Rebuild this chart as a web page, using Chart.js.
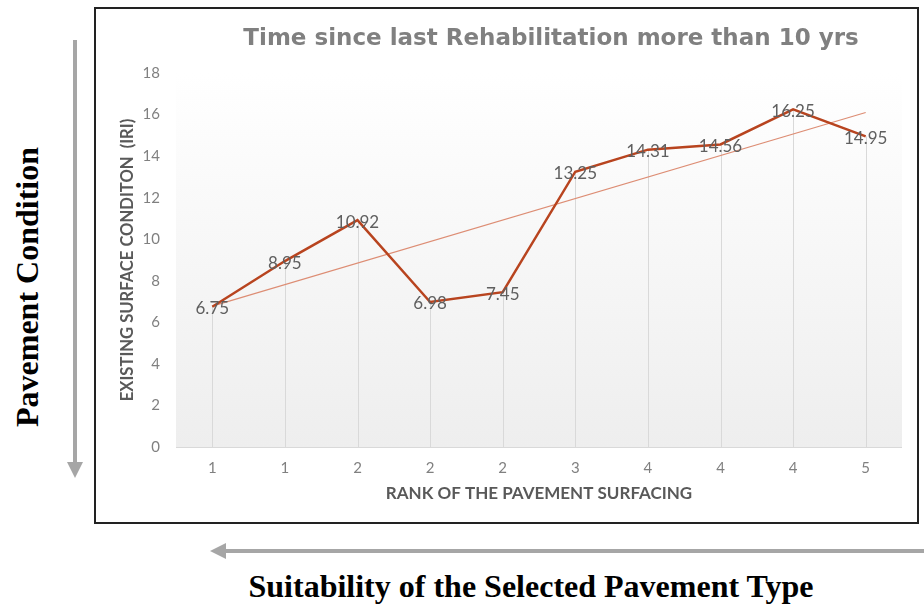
<!DOCTYPE html>
<html>
<head>
<meta charset="utf-8">
<script src="https://cdn.jsdelivr.net/npm/chart.js@4/dist/chart.umd.min.js"></script>
<style>
  html, body { margin: 0; padding: 0; background: #ffffff; }
  body { width: 924px; height: 606px; position: relative; overflow: hidden; }
  #frame {
    position: absolute; left: 94px; top: 7px; width: 825px; height: 517px;
    border: 2px solid #222222; box-sizing: border-box;
  }
  #chart { position: absolute; left: 96px; top: 9px; }
  #title {
    position: absolute; left: 551px; top: 21px; transform: translateX(-50%);
    white-space: nowrap; font-family: "DejaVu Sans", sans-serif; font-weight: 700;
    font-size: 23px; color: #808080; line-height: 32px;
  }
  #ylabel {
    position: absolute; left: 27px; top: 287px;
    transform: translate(-50%, -50%) rotate(-90deg);
    white-space: nowrap; font-family: "Liberation Serif", "Times New Roman", serif;
    font-weight: 700; font-size: 32px; color: #000000; line-height: 36px;
  }
  #xlabel {
    position: absolute; left: 531px; top: 586px;
    transform: translate(-50%, -50%);
    white-space: nowrap; font-family: "Liberation Serif", "Times New Roman", serif;
    font-weight: 700; font-size: 32px; color: #000000; line-height: 36px;
  }
  svg.arrows { position: absolute; left: 0; top: 0; }
</style>
</head>
<body>
<svg class="arrows" width="924" height="606">
  <!-- condition arrow, pointing down -->
  <rect x="73" y="40" width="4" height="424" fill="#a6a6a6"/>
  <polygon points="67,462 83,462 75,478" fill="#a6a6a6"/>
  <!-- suitability arrow, pointing left -->
  <rect x="224" y="549" width="700" height="4" fill="#a6a6a6"/>
  <polygon points="226,543 226,559 210,551" fill="#a6a6a6"/>
</svg>
<div id="ylabel">Pavement Condition</div>
<div id="xlabel">Suitability of the Selected Pavement Type</div>
<div id="frame"></div>
<canvas id="chart" width="822" height="513"></canvas>
<div id="title">Time since last Rehabilitation more than 10 yrs</div>

<script>
// Rank of each pavement surfacing (category labels along the x axis)
const rankLabels = ['1', '1', '2', '2', '2', '3', '4', '4', '4', '5'];
// Existing surface condition, IRI
const iriValues = [6.75, 8.95, 10.92, 6.98, 7.45, 13.25, 14.31, 14.56, 16.25, 14.95];
// Linear trend line: value at the first and at the last rank
const trendEnds = [6.78, 16.1];
// Y axis range and tick step
const yTicks = { min: 0, max: 18, step: 2 };

const trendData = rankLabels.map((_, i) =>
  i === 0 ? trendEnds[0] : (i === rankLabels.length - 1 ? trendEnds[1] : null));

const chartFont = 'Lato, "DejaVu Sans", sans-serif';

// Plot background, drop lines and value labels
const decorations = {
  id: 'decorations',
  beforeDatasetsDraw(chart) {
    const { ctx, chartArea: a, scales } = chart;
    ctx.save();
    const g = ctx.createLinearGradient(0, a.top, 0, a.bottom);
    g.addColorStop(0, 'rgba(255,255,255,1)');
    g.addColorStop(1, 'rgba(238,238,238,1)');
    ctx.fillStyle = g;
    ctx.fillRect(a.left, a.top, a.right - a.left, a.bottom - a.top);

    const y0 = scales.y.getPixelForValue(0);
    ctx.strokeStyle = '#d9d9d9';
    ctx.lineWidth = 1;
    chart.getDatasetMeta(0).data.forEach(pt => {
      const x = Math.round(pt.x) + 0.5;
      ctx.beginPath();
      ctx.moveTo(x, pt.y);
      ctx.lineTo(x, y0);
      ctx.stroke();
    });
    ctx.beginPath();
    ctx.moveTo(a.left, Math.round(y0) + 0.5);
    ctx.lineTo(a.right, Math.round(y0) + 0.5);
    ctx.stroke();
    ctx.restore();
  },
  afterDatasetsDraw(chart) {
    const { ctx } = chart;
    ctx.save();
    ctx.font = '17px ' + chartFont;
    ctx.fillStyle = '#5f5f5f';
    ctx.textAlign = 'center';
    ctx.textBaseline = 'middle';
    chart.getDatasetMeta(0).data.forEach((pt, i) => {
      ctx.fillText(iriValues[i].toFixed(2), pt.x, pt.y + 2);
    });
    ctx.restore();
  }
};

new Chart(document.getElementById('chart'), {
  type: 'line',
  data: {
    labels: rankLabels,
    datasets: [
      {
        data: iriValues,
        borderColor: '#b8441f',
        borderWidth: 2.5,
        pointRadius: 0,
        tension: 0,
        order: 1
      },
      {
        data: trendData,
        borderColor: '#dd8d74',
        borderWidth: 1.2,
        pointRadius: 0,
        spanGaps: true,
        order: 2
      }
    ]
  },
  options: {
    responsive: false,
    devicePixelRatio: 1,
    animation: false,
    layout: { padding: { top: 64, right: 16, left: 0, bottom: 0 } },
    plugins: { legend: { display: false }, tooltip: { enabled: false } },
    scales: {
      x: {
        offset: true,
        grid: { display: false, drawTicks: false },
        border: { display: false },
        ticks: { color: '#808080', font: { family: chartFont, size: 15 }, padding: 12, maxRotation: 0, autoSkip: false },
        title: {
          display: true, text: 'RANK OF THE PAVEMENT SURFACING', color: '#595959',
          font: { family: chartFont, size: 17, weight: '700' }, padding: { top: 0, bottom: 18 }
        },
        afterFit(scale) { scale.height = 75; }
      },
      y: {
        min: yTicks.min, max: yTicks.max,
        grid: { display: false, drawTicks: false },
        border: { display: false },
        ticks: { stepSize: yTicks.step, color: '#808080', font: { family: chartFont, size: 15 }, padding: 16 },
        title: {
          display: true, text: 'EXISTING SURFACE CONDITON  (IRI)', color: '#595959',
          font: { family: chartFont, size: 16.6, weight: '700' }, padding: { top: 22, bottom: 0 }
        },
        afterFit(scale) { scale.width = 80; }
      }
    }
  },
  plugins: [decorations]
});
</script>
</body>
</html>
